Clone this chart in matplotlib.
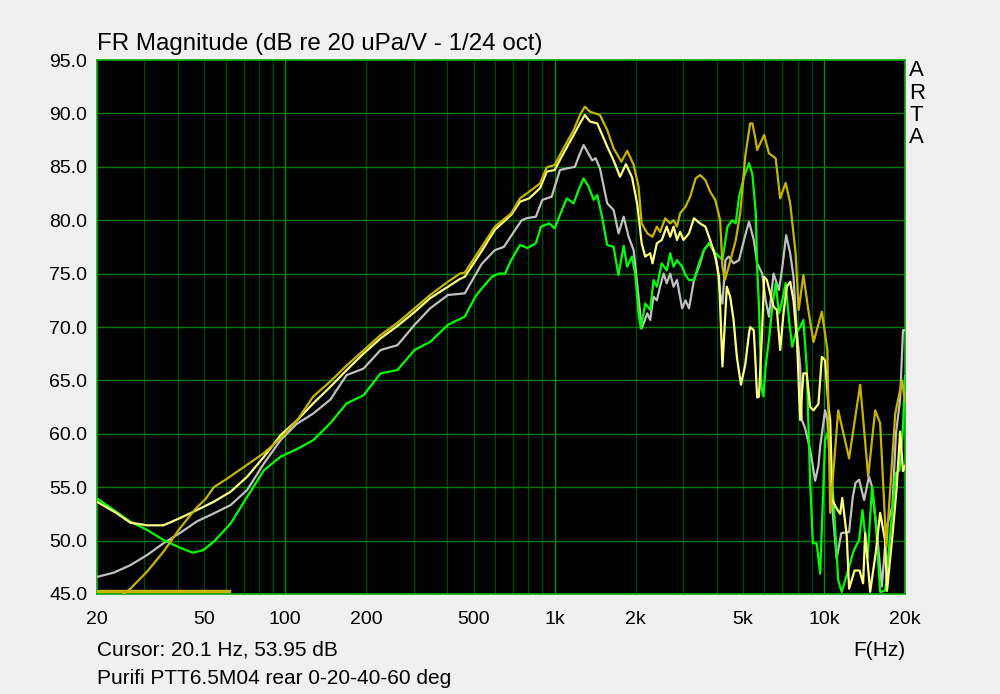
import numpy as np
import matplotlib.pyplot as plt

# ---------------------------------------------------------------
# data  (frequency Hz, level dB)
# ---------------------------------------------------------------

green = [(20, 53.95), (23.1, 52.86), (26.6, 51.77), (30.7, 51.0), (35.3, 50.06), (40.6, 49.34),
         (45.4, 48.87), (49.6, 49.1), (54.3, 49.9), (62.7, 51.6), (72.2, 54.1), (83.4, 56.6),
         (96.2, 57.86), (111, 58.6), (127, 59.4), (147, 61.0), (169, 62.85), (195, 63.6),
         (226, 65.66), (261, 65.97), (302, 67.85), (345, 68.6), (402, 70.2), (464, 70.97),
         (508, 72.84), (536, 73.6), (585, 74.7), (620, 75.0), (655, 75.0), (690, 76.27),
         (744, 77.68), (793, 77.4), (852, 77.84), (890, 79.4), (956, 79.7), (1000, 79.24),
         (1047, 80.5), (1110, 82.05), (1177, 81.58), (1228, 82.83), (1280, 83.92), (1338, 83.14),
         (1397, 81.9), (1440, 82.36), (1500, 80.33), (1568, 77.68), (1656, 77.5), (1726, 74.87),
         (1805, 77.6), (1860, 75.65), (1938, 76.6), (1993, 74.9), (2050, 71.28), (2090, 69.87),
         (2170, 72.2), (2264, 71.6), (2330, 74.4), (2397, 73.77), (2500, 75.96), (2608, 75.3),
         (2687, 76.9), (2765, 75.65), (2848, 76.27), (2975, 75.65), (3063, 74.87), (3155, 74.4),
         (3293, 74.4), (3437, 75.96), (3587, 77.2), (3745, 77.84), (3908, 77.05), (4080, 76.6),
         (4200, 76.27), (4385, 79.4), (4575, 80.0), (4705, 79.7), (4840, 82.2), (5050, 84.07),
         (5270, 85.33), (5425, 84.3), (5580, 80.8), (5650, 75.65), (5740, 71.9), (5860, 64.4),
         (5960, 63.5), (6075, 66.3), (6250, 68.8), (6430, 71.9), (6620, 74.1), (6810, 71.28),
         (7010, 72.5), (7210, 74.1), (7420, 70.66), (7630, 68.16), (7850, 69.4), (8163, 70.0),
         (8390, 70.66), (8630, 66.3), (8750, 61.3), (8890, 55.4), (9100, 49.75), (9400, 49.75),
         (9683, 46.9), (9825, 51.3), (10100, 59.4), (10400, 60.35), (10850, 53.8), (11300, 46.3),
         (11640, 45.2), (12190, 46.9), (12920, 49.1), (13510, 50.06), (13910, 52.86), (14520, 48.4),
         (15100, 55.05), (15600, 51.4), (16170, 45.2), (16880, 45.3), (17950, 52.86), (18510, 56.3),
         (19090, 56.6), (19660, 60.7), (20000, 65.4)]

yellow = [(20, 53.64), (23.7, 52.55), (26.6, 51.68), (30.7, 51.43), (35.3, 51.43), (40.6, 52.1),
          (47.0, 52.86), (54.3, 53.64), (62.7, 54.58), (72.2, 55.98), (83.4, 57.86), (96.2, 59.89),
          (111, 61.3), (127, 62.85), (147, 64.4), (169, 65.97), (195, 67.5), (226, 68.94),
          (261, 70.1), (302, 71.4), (345, 72.7), (402, 73.77), (445, 74.5), (464, 74.7),
          (536, 77.1), (600, 79.1), (690, 80.5), (744, 81.73), (805, 82.05), (883, 83.0),
          (935, 84.55), (1000, 84.7), (1070, 86.1), (1177, 87.98), (1242, 89.07), (1295, 89.85),
          (1355, 89.23), (1440, 89.07), (1568, 86.9), (1656, 85.6), (1750, 84.07), (1840, 85.25),
          (1940, 84.0), (2030, 81.4), (2105, 77.84), (2170, 76.6), (2264, 76.9), (2310, 75.96),
          (2397, 77.84), (2500, 78.15), (2608, 79.4), (2687, 78.45), (2765, 79.4), (2848, 78.15),
          (2925, 78.9), (3010, 78.15), (3155, 78.77), (3293, 80.18), (3468, 79.7), (3630, 79.4),
          (3780, 78.15), (3950, 76.6), (4080, 74.7), (4200, 66.3), (4360, 73.77), (4486, 72.84),
          (4620, 70.66), (4750, 67.2), (4920, 64.6), (5105, 66.5), (5270, 69.4), (5322, 70.0),
          (5490, 69.7), (5580, 66.3), (5650, 63.4), (5740, 63.5), (5880, 69.0), (6000, 74.7),
          (6140, 74.4), (6318, 73.15), (6500, 71.9), (6690, 71.6), (6880, 67.85), (7080, 71.3),
          (7280, 73.77), (7495, 74.24), (7710, 72.5), (7940, 68.8), (8163, 61.3), (8390, 65.66),
          (8630, 65.66), (8890, 62.5), (9150, 62.2), (9540, 62.8), (9825, 67.2), (10100, 66.9),
          (10400, 62.5), (10550, 61.3), (10750, 53.8), (11150, 53.0), (11490, 52.5), (11700, 54.0),
          (12150, 50.5), (12400, 45.5), (13000, 47.2), (13560, 47.2), (13980, 46.0), (14230, 50.7),
          (14850, 45.2), (15600, 49.0), (16170, 52.6), (16880, 50.0), (17150, 45.3), (18050, 51.0),
          (18630, 55.0), (19180, 60.2), (19660, 56.5), (20000, 57.0)]

gray = [(20, 46.6), (23.1, 47.0), (26.6, 47.7), (30.7, 48.65), (35.3, 49.75), (40.6, 50.7),
        (47.0, 51.8), (54.3, 52.55), (62.7, 53.33), (72.2, 54.74), (83.4, 57.24), (96.2, 59.42),
        (110, 60.9), (127, 61.9), (147, 63.2), (169, 65.5), (195, 66.1), (226, 67.85),
        (261, 68.3), (302, 70.2), (345, 71.75), (402, 73.0), (464, 73.15), (536, 75.9),
        (600, 77.2), (648, 77.5), (700, 78.77), (755, 80.0), (790, 80.2), (852, 80.33),
        (900, 81.9), (975, 82.2), (1047, 84.7), (1110, 84.85), (1190, 85.0), (1228, 85.95),
        (1282, 87.04), (1380, 85.6), (1420, 85.8), (1474, 84.85), (1568, 81.58), (1656, 80.96),
        (1728, 78.77), (1805, 80.33), (1883, 78.45), (1965, 77.2), (2050, 72.8), (2105, 69.87),
        (2210, 71.28), (2264, 70.66), (2330, 72.84), (2397, 72.5), (2463, 73.77), (2540, 75.0),
        (2608, 74.1), (2687, 75.0), (2765, 73.77), (2848, 74.4), (2975, 71.75), (3063, 72.5),
        (3155, 71.75), (3293, 74.4), (3468, 75.96), (3587, 77.2), (3745, 77.84), (3908, 77.2),
        (4020, 75.65), (4118, 73.15), (4200, 72.2), (4310, 76.27), (4430, 76.6), (4620, 75.96),
        (4840, 76.27), (5050, 78.15), (5270, 79.86), (5490, 78.15), (5650, 75.96), (5900, 75.0),
        (6075, 72.5), (6250, 70.97), (6500, 75.0), (6810, 73.46), (7010, 75.65), (7240, 78.6),
        (7495, 76.9), (7710, 74.7), (7940, 69.4), (8163, 66.3), (8280, 61.3), (8520, 60.5),
        (8890, 58.5), (9280, 55.6), (9540, 57.0), (9683, 58.8), (10100, 62.2), (10300, 61.3),
        (10750, 53.0), (11150, 48.3), (11600, 50.7), (12400, 50.8), (12800, 54.1), (13100, 55.4),
        (13510, 55.7), (14100, 53.8), (14700, 56.0), (15100, 55.0), (15700, 51.0), (16400, 45.7),
        (17100, 51.3), (17950, 53.2), (18510, 60.0), (19180, 63.2), (19660, 69.7), (20000, 69.7)]

olive = [(22.5, 43.0), (25.1, 45.0), (26.6, 45.5), (30.7, 47.1), (35.3, 48.96), (40.5, 51.1),
         (46.5, 53.0), (50.6, 53.9), (54.3, 55.0), (60.8, 55.8), (72.2, 57.1), (83.3, 58.2),
         (96.2, 59.6), (111, 61.3), (127, 63.5), (147, 64.9), (169, 66.4), (195, 67.8),
         (226, 69.25), (261, 70.4), (302, 71.75), (345, 73.0), (402, 74.24), (445, 75.0),
         (464, 75.1), (536, 77.5), (600, 79.4), (690, 80.65), (744, 82.05), (805, 82.67),
         (883, 83.45), (935, 84.95), (1000, 85.17), (1070, 86.57), (1177, 88.45), (1242, 89.85),
         (1295, 90.63), (1355, 90.16), (1474, 89.85), (1568, 88.45), (1656, 86.73), (1770, 85.48),
         (1860, 86.5), (1965, 85.2), (2050, 83.14), (2105, 79.7), (2210, 78.77), (2310, 78.45),
         (2397, 79.4), (2463, 78.9), (2575, 80.18), (2687, 79.7), (2765, 80.0), (2848, 79.4),
         (2925, 80.65), (3063, 81.27), (3187, 82.2), (3340, 83.92), (3468, 84.23), (3630, 83.76),
         (3780, 82.67), (3950, 81.9), (4118, 80.0), (4200, 75.65), (4290, 74.4), (4430, 75.65),
         (4705, 78.1), (4887, 80.65), (4940, 81.9), (5105, 86.0), (5322, 89.07), (5425, 89.07),
         (5580, 87.5), (5650, 86.57), (6000, 87.98), (6250, 86.26), (6620, 85.8), (6880, 82.05),
         (7210, 83.5), (7495, 81.58), (7850, 76.9), (8060, 71.6), (8390, 74.87), (8750, 71.6),
         (9150, 68.6), (9825, 71.43), (10300, 67.85), (10550, 52.6), (11300, 62.2), (12400, 57.7),
         (13630, 64.6), (14600, 56.0), (15500, 62.2), (16170, 61.0), (17050, 49.4), (18400, 61.9),
         (19500, 65.0), (20000, 63.0)]

# short flat trace along the bottom edge
marker_f = [20, 61.6]
marker_db = [45.3, 45.3]

x_ticks = [20, 50, 100, 200, 500, 1000, 2000, 5000, 10000, 20000]
x_labels = ["20", "50", "100", "200", "500", "1k", "2k", "5k", "10k", "20k"]
y_ticks = [45, 50, 55, 60, 65, 70, 75, 80, 85, 90, 95]

# =====================
# FIGURE
# =====================
plt.rcParams['font.family'] = ['Liberation Sans', 'DejaVu Sans']

fig = plt.figure(figsize=(10, 6.94), dpi=100, facecolor='#f0f0f0')
ax = fig.add_axes([0.097, 0.1441, 0.808, 0.7694])
ax.set_facecolor('black')
ax.set_xscale('log')
ax.set_xlim(20, 20000)
ax.set_ylim(45, 95)

# grid: dark minor verticals, brighter decades, horizontal every 5 dB
for dec in [10, 100, 1000, 10000]:
    for m in range(2, 10):
        f = dec * m
        if 20 < f < 20000:
            ax.axvline(f, color='#004c00', lw=1, zorder=0)
for f in [100, 1000, 10000]:
    ax.axvline(f, color='#009000', lw=1, zorder=0)
for y in y_ticks[1:-1]:
    ax.axhline(y, color='#007a00', lw=1, zorder=0)

OLIVE = '#c8b400'
for data, col in [(gray, '#c0c0c0'), (green, '#00ff00'), (yellow, '#ffff80'), (olive, OLIVE)]:
    f, db = zip(*data)
    ax.plot(f, db, color=col, lw=1.6, zorder=3)
ax.plot(marker_f, marker_db, color=OLIVE, lw=2.5, zorder=3)

ax.xaxis.set_minor_locator(plt.NullLocator())
ax.set_xticks(x_ticks)
ax.set_xticklabels(x_labels)
ax.set_yticks(y_ticks)
ax.set_yticklabels([f"{v:.1f}" for v in y_ticks])
ax.tick_params(length=0, labelsize=14)
ax.tick_params(axis='x', pad=12)
ax.tick_params(axis='y', pad=7)
for s in ax.spines.values():
    s.set_color('#00b000')
    s.set_linewidth(1.2)

fig.text(0.097, 1 - 50 / 694, "FR Magnitude (dB re 20 uPa/V - 1/24 oct)", fontsize=17.4, va='baseline')
for i, ch in enumerate("ARTA"):
    fig.text(0.909, 1 - (71 + 22.3 * i) / 694, ch, fontsize=16, va='center', ha='left')
fig.text(0.097, 1 - 650 / 694, "Cursor: 20.1 Hz, 53.95 dB", fontsize=15, va='center')
fig.text(0.905, 1 - 650 / 694, "F(Hz)", fontsize=15, va='center', ha='right')
fig.text(0.097, 1 - 678 / 694, "Purifi PTT6.5M04 rear 0-20-40-60 deg", fontsize=15, va='center')

fig.savefig("out.png", dpi=100, facecolor=fig.get_facecolor())
